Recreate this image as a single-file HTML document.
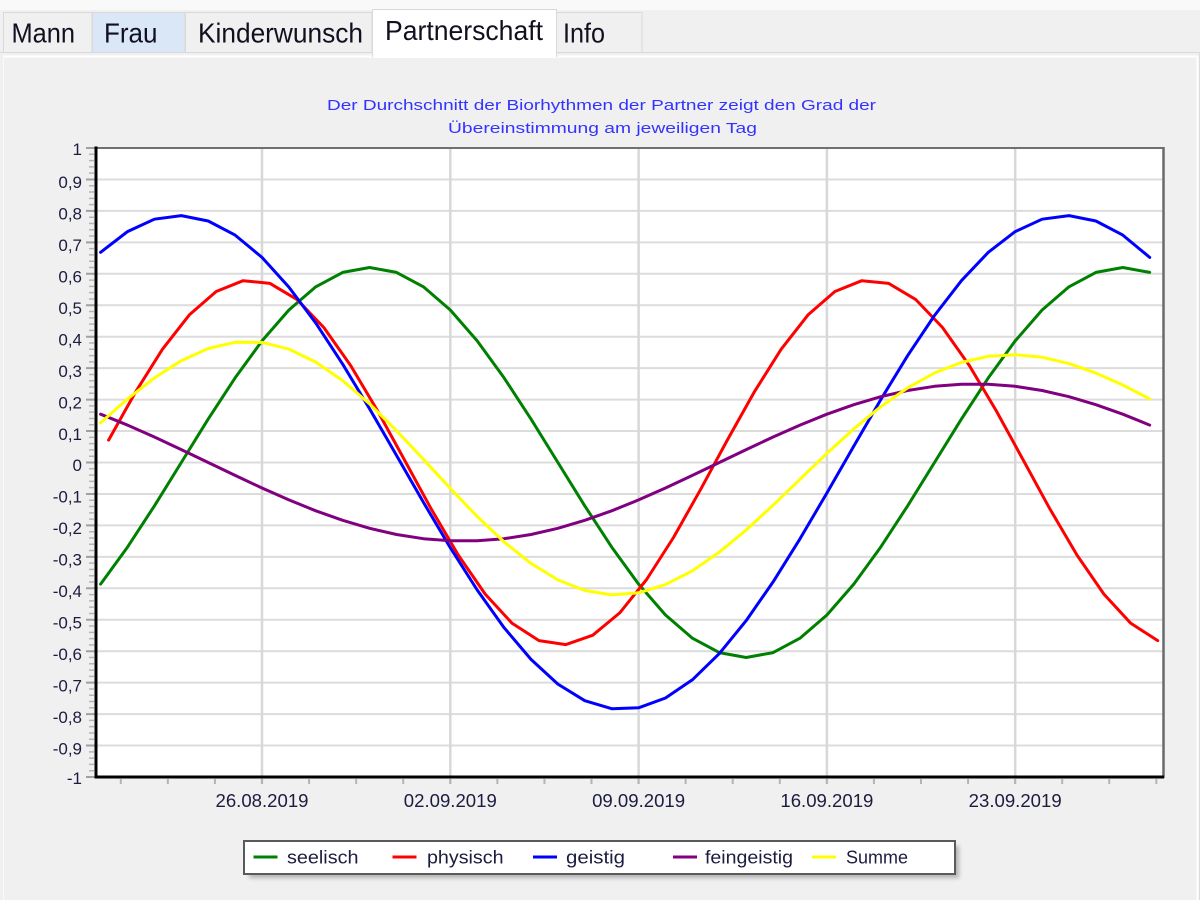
<!DOCTYPE html>
<html>
<head>
<meta charset="utf-8">
<style>
  html,body{margin:0;padding:0;background:#f0f0f0;}
  body{width:1200px;height:900px;overflow:hidden;}
  svg{display:block;}
  text{font-family:"Liberation Sans",Arial,sans-serif;}
</style>
</head>
<body>
<svg width="1200" height="900" viewBox="0 0 1200 900" xmlns="http://www.w3.org/2000/svg">
  <defs>
    <filter id="blur" x="-5%" y="-50%" width="110%" height="200%">
      <feGaussianBlur stdDeviation="2"/>
    </filter>
  </defs>

  <!-- background / window chrome -->
  <rect x="0" y="0" width="1200" height="900" fill="#f0f0f0"/>
  <rect x="0" y="0" width="1200" height="10" fill="#f9f9f9"/>
  <line x1="0" y1="52.5" x2="1200" y2="52.5" stroke="#dadada" stroke-width="1"/>
  <!-- panel border -->
  <line x1="3" y1="56.5" x2="1197" y2="56.5" stroke="#ffffff" stroke-width="2"/>
  <line x1="1197.5" y1="56" x2="1197.5" y2="900" stroke="#ffffff" stroke-width="2"/>
  <line x1="1199.5" y1="52" x2="1199.5" y2="900" stroke="#dcdcdc" stroke-width="1"/>
  <line x1="3.5" y1="56" x2="3.5" y2="900" stroke="#fafafa" stroke-width="1"/>

  <!-- tabs -->
  <rect x="3.5" y="12.5" width="88.5" height="40" fill="#f0f0f0" stroke="#d9d9d9" stroke-width="1"/>
  <rect x="92.5" y="12.5" width="92.5" height="40" fill="#d9e7f6" stroke="#d9d9d9" stroke-width="1"/>
  <rect x="185.5" y="12.5" width="186.5" height="40" fill="#f0f0f0" stroke="#d9d9d9" stroke-width="1"/>
  <rect x="556.5" y="12.5" width="85.5" height="40" fill="#f0f0f0" stroke="#d9d9d9" stroke-width="1"/>
  <path d="M372.5,57 L372.5,9.5 L556.5,9.5 L556.5,57" fill="#ffffff" stroke="#d9d9d9" stroke-width="1"/>
  <rect x="373" y="10" width="183" height="48" fill="#ffffff"/>

  <g fill="#101020" font-size="28">
    <text x="11.5" y="42.5" textLength="63.5" lengthAdjust="spacingAndGlyphs">Mann</text>
    <text x="104" y="42.5" textLength="53.5" lengthAdjust="spacingAndGlyphs">Frau</text>
    <text x="198" y="42.5" textLength="165" lengthAdjust="spacingAndGlyphs">Kinderwunsch</text>
    <text x="385" y="40" textLength="158" lengthAdjust="spacingAndGlyphs">Partnerschaft</text>
    <text x="563" y="42.5" textLength="42" lengthAdjust="spacingAndGlyphs">Info</text>
  </g>

  <!-- title -->
  <g fill="#3333ff" font-size="15">
    <text x="327" y="110" textLength="549" lengthAdjust="spacingAndGlyphs">Der Durchschnitt der Biorhythmen der Partner zeigt den Grad der</text>
    <text x="448" y="133" textLength="309" lengthAdjust="spacingAndGlyphs">Übereinstimmung am jeweiligen Tag</text>
  </g>

  <!-- plot area -->
  <rect x="96" y="148" width="1067" height="629" fill="#ffffff"/>

  <!-- horizontal gridlines -->
  <g stroke="#dcdcdc" stroke-width="2">
    <line x1="96" y1="179.45" x2="1163" y2="179.45"/>
    <line x1="96" y1="210.9" x2="1163" y2="210.9"/>
    <line x1="96" y1="242.35" x2="1163" y2="242.35"/>
    <line x1="96" y1="273.8" x2="1163" y2="273.8"/>
    <line x1="96" y1="305.25" x2="1163" y2="305.25"/>
    <line x1="96" y1="336.7" x2="1163" y2="336.7"/>
    <line x1="96" y1="368.15" x2="1163" y2="368.15"/>
    <line x1="96" y1="399.6" x2="1163" y2="399.6"/>
    <line x1="96" y1="431.05" x2="1163" y2="431.05"/>
    <line x1="96" y1="462.5" x2="1163" y2="462.5"/>
    <line x1="96" y1="493.95" x2="1163" y2="493.95"/>
    <line x1="96" y1="525.4" x2="1163" y2="525.4"/>
    <line x1="96" y1="556.85" x2="1163" y2="556.85"/>
    <line x1="96" y1="588.3" x2="1163" y2="588.3"/>
    <line x1="96" y1="619.75" x2="1163" y2="619.75"/>
    <line x1="96" y1="651.2" x2="1163" y2="651.2"/>
    <line x1="96" y1="682.65" x2="1163" y2="682.65"/>
    <line x1="96" y1="714.1" x2="1163" y2="714.1"/>
    <line x1="96" y1="745.55" x2="1163" y2="745.55"/>
  </g>
  <!-- vertical gridlines -->
  <g stroke="#d8d8d8" stroke-width="2.5">
    <line x1="262" y1="148" x2="262" y2="784"/>
    <line x1="450.3" y1="148" x2="450.3" y2="784"/>
    <line x1="638.6" y1="148" x2="638.6" y2="784"/>
    <line x1="826.9" y1="148" x2="826.9" y2="784"/>
    <line x1="1015.2" y1="148" x2="1015.2" y2="784"/>
  </g>

  <!-- y-axis ticks (minor + major) via dash trick -->
  <line x1="91.5" y1="147.25" x2="91.5" y2="778" stroke="#b4b4b4" stroke-width="5" stroke-dasharray="1.5 4.79"/>
  <line x1="90.5" y1="147" x2="90.5" y2="779" stroke="#a0a0a0" stroke-width="9" stroke-dasharray="2 29.45"/>
  <!-- x-axis ticks -->
  <line x1="119.8" y1="781.5" x2="1160" y2="781.5" stroke="#b4b4b4" stroke-width="5" stroke-dasharray="2 45.07"/>

  <!-- frame -->
  <line x1="96" y1="148" x2="1164" y2="148" stroke="#707070" stroke-width="2"/>
  <line x1="1163.5" y1="147" x2="1163.5" y2="778" stroke="#6a6a6a" stroke-width="2.5"/>
  <line x1="96" y1="146.5" x2="96" y2="778.5" stroke="#000000" stroke-width="3"/>
  <line x1="94.5" y1="777" x2="1164" y2="777" stroke="#000000" stroke-width="3"/>

  <!-- y labels -->
  <g fill="#1c1c40" font-size="17" text-anchor="end">
    <text x="82" y="155">1</text>
    <text x="82" y="188">0,9</text>
    <text x="82" y="219.5">0,8</text>
    <text x="82" y="251">0,7</text>
    <text x="82" y="282.5">0,6</text>
    <text x="82" y="314">0,5</text>
    <text x="82" y="345.5">0,4</text>
    <text x="82" y="376.9">0,3</text>
    <text x="82" y="408.3">0,2</text>
    <text x="82" y="439.8">0,1</text>
    <text x="82" y="471.2">0</text>
    <text x="82" y="502.7">-0,1</text>
    <text x="82" y="534.1">-0,2</text>
    <text x="82" y="565.6">-0,3</text>
    <text x="82" y="597">-0,4</text>
    <text x="82" y="628.5">-0,5</text>
    <text x="82" y="659.9">-0,6</text>
    <text x="82" y="691.4">-0,7</text>
    <text x="82" y="722.8">-0,8</text>
    <text x="82" y="754.3">-0,9</text>
    <text x="82" y="784">-1</text>
  </g>

  <!-- x labels -->
  <g fill="#1c1c40" font-size="18">
    <text x="215.5" y="807" textLength="93" lengthAdjust="spacingAndGlyphs">26.08.2019</text>
    <text x="403.8" y="807" textLength="93" lengthAdjust="spacingAndGlyphs">02.09.2019</text>
    <text x="592.1" y="807" textLength="93" lengthAdjust="spacingAndGlyphs">09.09.2019</text>
    <text x="780.4" y="807" textLength="93" lengthAdjust="spacingAndGlyphs">16.09.2019</text>
    <text x="968.7" y="807" textLength="93" lengthAdjust="spacingAndGlyphs">23.09.2019</text>
  </g>

  <!-- series -->
  <g fill="none" stroke-width="3" stroke-linejoin="round" stroke-linecap="round">
    <polyline stroke="#008000" points="100.6,584.1 127.5,547.1 154.4,505.9 181.3,462.5 208.2,419.1 235.1,377.9 262.0,340.9 288.9,310.0 315.8,286.8 342.7,272.4 369.6,267.5 396.5,272.4 423.4,286.8 450.3,310.0 477.2,340.9 504.1,377.9 531.0,419.1 557.9,462.5 584.8,505.9 611.7,547.1 638.6,584.1 665.5,615.0 692.4,638.2 719.3,652.6 746.2,657.5 773.1,652.6 800.0,638.2 826.9,615.0 853.8,584.1 880.7,547.1 907.6,505.9 934.5,462.5 961.4,419.1 988.3,377.9 1015.2,340.9 1042.1,310.0 1069.0,286.8 1095.9,272.4 1122.8,267.5 1149.7,272.4"/>
    <polyline stroke="#ff0000" points="108.6,440.1 135.5,392.1 162.4,349.3 189.3,314.9 216.2,291.5 243.1,280.7 270.0,283.4 296.9,299.4 323.8,327.5 350.7,365.6 377.6,410.9 404.5,460.0 431.4,509.3 458.3,555.1 485.2,594.1 512.1,623.3 539.0,640.6 565.9,644.6 592.8,635.2 619.7,612.9 646.6,579.5 673.5,537.5 700.4,489.8 727.3,440.1 754.2,392.1 781.1,349.3 808.0,314.9 834.9,291.5 861.8,280.7 888.7,283.4 915.6,299.4 942.5,327.5 969.4,365.6 996.3,410.9 1023.2,460.0 1050.1,509.3 1077.0,555.1 1103.9,594.1 1130.8,623.3 1157.7,640.6"/>
    <polyline stroke="#0000ff" points="100.6,252.3 127.5,231.6 154.4,219.2 181.3,215.6 208.2,221.0 235.1,235.1 262.0,257.4 288.9,287.1 315.8,323.1 342.7,364.2 369.6,408.8 396.5,455.4 423.4,502.3 450.3,547.7 477.2,590.0 504.1,627.7 531.0,659.4 557.9,684.1 584.8,700.7 611.7,708.7 638.6,707.8 665.5,698.0 692.4,679.8 719.3,653.6 746.2,620.6 773.1,581.9 800.0,538.8 826.9,493.0 853.8,446.1 880.7,399.7 907.6,355.7 934.5,315.5 961.4,280.7 988.3,252.3 1015.2,231.6 1042.1,219.2 1069.0,215.6 1095.9,221.0 1122.8,235.1 1149.7,257.4"/>
    <polyline stroke="#800080" points="100.6,414.2 127.5,425.1 154.4,437.0 181.3,449.6 208.2,462.5 235.1,475.4 262.0,488.0 288.9,499.9 315.8,510.8 342.7,520.3 369.6,528.3 396.5,534.5 423.4,538.7 450.3,540.8 477.2,540.8 504.1,538.7 531.0,534.5 557.9,528.3 584.8,520.3 611.7,510.8 638.6,499.9 665.5,488.0 692.4,475.4 719.3,462.5 746.2,449.6 773.1,437.0 800.0,425.1 826.9,414.2 853.8,404.7 880.7,396.7 907.6,390.5 934.5,386.3 961.4,384.2 988.3,384.2 1015.2,386.3 1042.1,390.5 1069.0,396.7 1095.9,404.7 1122.8,414.2 1149.7,425.1"/>
    <polyline stroke="#ffff00" points="100.6,422.7 127.5,399.0 154.4,377.9 181.3,360.7 208.2,348.5 235.1,342.3 262.0,342.4 288.9,349.1 315.8,362.1 342.7,380.6 369.6,403.9 396.5,430.6 423.4,459.3 450.3,488.4 477.2,516.5 504.1,541.9 531.0,563.4 557.9,579.9 584.8,590.5 611.7,594.9 638.6,592.8 665.5,584.6 692.4,570.8 719.3,552.2 746.2,530.0 773.1,505.2 800.0,479.3 826.9,453.4 853.8,428.9 880.7,406.7 907.6,387.9 934.5,373.0 961.4,362.4 988.3,356.3 1015.2,354.7 1042.1,357.3 1069.0,363.6 1095.9,373.1 1122.8,385.0 1149.7,398.9"/>
  </g>

  <!-- legend -->
  <rect x="249" y="846" width="710" height="32" fill="#8a8a8a" opacity="0.6" filter="url(#blur)"/>
  <rect x="244" y="841" width="711" height="33" fill="#ffffff" stroke="#5a5a5a" stroke-width="2"/>
  <g stroke-width="3">
    <line x1="253.5" y1="857" x2="277.5" y2="857" stroke="#008000"/>
    <line x1="392.5" y1="857" x2="416.5" y2="857" stroke="#ff0000"/>
    <line x1="533" y1="857" x2="557" y2="857" stroke="#0000ff"/>
    <line x1="673" y1="857" x2="697" y2="857" stroke="#800080"/>
    <line x1="812" y1="857" x2="836" y2="857" stroke="#ffff00"/>
  </g>
  <g fill="#1c1c40" font-size="18">
    <text x="287" y="863.5" textLength="71.5" lengthAdjust="spacingAndGlyphs">seelisch</text>
    <text x="427" y="863.5" textLength="76.5" lengthAdjust="spacingAndGlyphs">physisch</text>
    <text x="566" y="863.5" textLength="59" lengthAdjust="spacingAndGlyphs">geistig</text>
    <text x="705" y="863.5" textLength="88" lengthAdjust="spacingAndGlyphs">feingeistig</text>
    <text x="846" y="863.5" textLength="62" lengthAdjust="spacingAndGlyphs">Summe</text>
  </g>
</svg>
</body>
</html>
